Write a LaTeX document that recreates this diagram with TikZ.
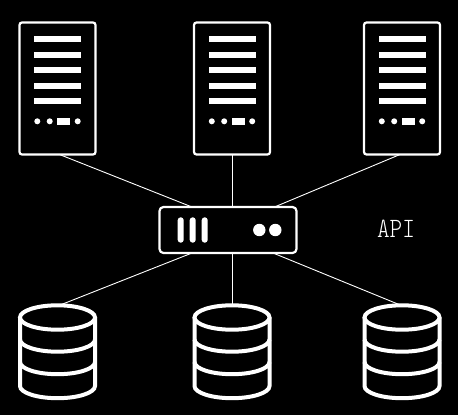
\documentclass[tikz,border=0pt]{standalone}
\usepackage{fontspec}
\usetikzlibrary{calc}
\newfontfamily\apifont{Latin Modern Mono Light}
\tikzset{
  link/.style={draw=white,line width=0.9pt},
  serverbox/.style={draw=white,line width=2.2pt,rounded corners=2.5pt,minimum width=76pt,minimum height=132pt,inner sep=0pt,outer sep=0pt,fill=black},
  switchbox/.style={draw=white,line width=2.2pt,rounded corners=4pt,minimum width=137pt,minimum height=46pt,inner sep=0pt,outer sep=0pt,fill=black},
  dbbox/.style={minimum width=79pt,minimum height=97pt,inner sep=0pt,outer sep=0pt},
  dbline/.style={draw=white,line width=4pt},
  solidpart/.style={fill=white,draw=none},
  apilabel/.style={text=white,inner sep=0pt,font=\apifont\fontsize{28}{28}\selectfont}
}
\newcommand{\serverparts}[1]{%
  \foreach \yy in {39.3,54.9,70.4,85.9,101.4}
    \fill[solidpart] (#1-23.5,\yy-3) rectangle (#1+23.5,\yy+3);
  \fill[solidpart] (#1-20.2,121.3) circle (3);
  \fill[solidpart] (#1-7.8,121.3) circle (3);
  \fill[solidpart] (#1-0.2,118.2) rectangle (#1+12.5,124.5);
  \fill[solidpart] (#1+20.2,121.3) circle (3);
}
\newcommand{\dbparts}[1]{%
  \draw[dbline] (#1,317.5) ellipse (37.5 and 12.2);
  \draw[dbline] (#1-37.5,317.5) -- (#1-37.5,386) arc[start angle=180,end angle=0,x radius=37.5,y radius=12.2] -- (#1+37.5,317.5);
  \draw[dbline] (#1-37.5,339.5) arc[start angle=180,end angle=0,x radius=37.5,y radius=12.2];
  \draw[dbline] (#1-37.5,362) arc[start angle=180,end angle=0,x radius=37.5,y radius=12.2];
}
\begin{document}
\begin{tikzpicture}[x=1pt,y=-1pt]
\useasboundingbox[fill=black] (0,0) rectangle (458,415);
\node[switchbox] (sw) at (228,230) {};
\coordinate (swn1) at (192,207);
\coordinate (swn2) at (232,207);
\coordinate (swn3) at (274.5,207);
\coordinate (sws1) at (192,253);
\coordinate (sws2) at (232,253);
\coordinate (sws3) at (273,253);
\node[serverbox] (s1) at (57.5,88.5) {};
\node[serverbox] (s2) at (232,88.5) {};
\node[serverbox] (s3) at (402,88.5) {};
\node[dbbox] (d1) at (57.5,352) {};
\node[dbbox] (d2) at (232,352) {};
\node[dbbox] (d3) at (402,352) {};
\draw[link] (s1.south) ++(2,0) -- (swn1);
\draw[link] (s2.south) -- (swn2);
\draw[link] (s3.south) ++(-2,0) -- (swn3);
\draw[link] (d1.north) ++(4,1) -- (sws1);
\draw[link] (d2.north) -- (sws2);
\draw[link] (d3.north) ++(-3,1) -- (sws3);
\serverparts{57.5}
\serverparts{232}
\serverparts{402}
\dbparts{57.5}
\dbparts{232}
\dbparts{402}
\foreach \xx in {180.7,192.7,204.7}
  \fill[solidpart,rounded corners=2.9pt] (\xx-3,217.3) rectangle (\xx+3,242.7);
\fill[solidpart] (259.3,230) circle (6.2);
\fill[solidpart] (275.3,230) circle (6.2);
\node[apilabel,xscale=0.86,transform shape] (api) at (396,228.5) {API};
\end{tikzpicture}
\end{document}
